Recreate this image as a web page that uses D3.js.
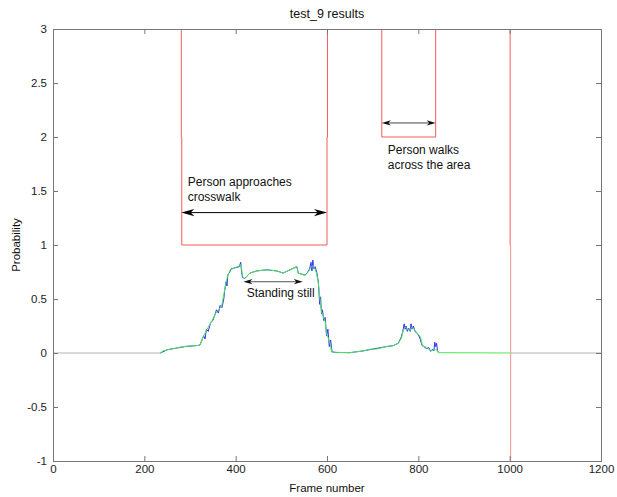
<!DOCTYPE html>
<html>
<head>
<meta charset="utf-8">
<script src="https://cdn.jsdelivr.net/npm/d3@7"></script>
<style>
  html, body { margin: 0; padding: 0; background: #fff; }
  svg { display: block; font-family: "Liberation Sans", Arial, sans-serif; }
</style>
</head>
<body>
<svg id="chart" width="617" height="497"></svg>
<script>
// Detector state over time (step series, red)
const stateFrames = [0, 281, 282, 600, 601, 720, 838, 1001, 1002];
const stateValues = [3, 2, 1, 2, 3, 2, 3, 1, -1];

// Smoothed probability (green)
const smoothFrames = [235, 241, 256, 270, 285, 300, 318, 322, 329, 336, 347, 358, 369, 377, 382, 388, 399, 409, 412, 415, 420, 431, 446, 468, 490, 504, 519, 534, 537, 552, 559, 566, 570, 577, 581, 585, 588, 596, 599, 607, 610, 621, 650, 680, 694, 709, 731, 745, 756, 763, 767, 771, 774, 782, 785, 793, 800, 805, 809, 818, 827, 834, 840, 844, 1005];
const smoothValues = [0, 0.02, 0.035, 0.045, 0.06, 0.065, 0.07, 0.075, 0.15, 0.21, 0.29, 0.38, 0.43, 0.61, 0.71, 0.77, 0.79, 0.81, 0.82, 0.71, 0.69, 0.74, 0.76, 0.77, 0.76, 0.74, 0.77, 0.80, 0.74, 0.72, 0.75, 0.80, 0.81, 0.74, 0.65, 0.49, 0.38, 0.29, 0.18, 0.09, 0.01, 0.006, 0.003, 0.02, 0.035, 0.037, 0.06, 0.068, 0.09, 0.136, 0.21, 0.24, 0.23, 0.21, 0.24, 0.21, 0.17, 0.15, 0.065, 0.053, 0.02, 0.028, 0.03, 0.003, 0];

// Raw probability (blue)
const rawFrames = [235, 250, 270, 290, 318, 322, 330, 333, 336, 340, 345, 350, 355, 358, 362, 366, 370, 374, 376, 379, 381, 383, 386, 390, 400, 408, 411, 413, 415, 420, 431, 446, 468, 490, 504, 519, 534, 537, 552, 558, 562, 565, 567, 569, 571, 574, 578, 581, 584, 586, 588, 590, 593, 596, 599, 602, 605, 608, 611, 620, 650, 680, 700, 731, 745, 756, 762, 766, 769, 771, 773, 776, 779, 782, 784, 786, 789, 793, 797, 800, 804, 808, 812, 818, 823, 827, 831, 834, 836, 838, 840, 842, 844];
const rawValues = [0, 0.03, 0.045, 0.06, 0.07, 0.075, 0.16, 0.13, 0.22, 0.2, 0.28, 0.3, 0.36, 0.4, 0.37, 0.44, 0.42, 0.5, 0.58, 0.66, 0.62, 0.73, 0.74, 0.78, 0.79, 0.8, 0.84, 0.75, 0.7, 0.69, 0.74, 0.76, 0.77, 0.76, 0.74, 0.77, 0.8, 0.74, 0.72, 0.75, 0.78, 0.84, 0.76, 0.86, 0.78, 0.8, 0.74, 0.66, 0.45, 0.52, 0.36, 0.4, 0.3, 0.33, 0.16, 0.22, 0.06, 0.12, 0.01, 0.005, 0.003, 0.02, 0.036, 0.06, 0.068, 0.09, 0.14, 0.2, 0.27, 0.22, 0.25, 0.2, 0.23, 0.2, 0.27, 0.22, 0.25, 0.2, 0.18, 0.17, 0.13, 0.07, 0.06, 0.04, 0.05, 0.015, 0.035, 0.02, 0.1, 0.06, 0.09, 0.02, 0.003];

// Baseline segments outside the tracked interval
const baseFrames = [[0, 235], [1005, 1200]];

const xTicks = [0, 200, 400, 600, 800, 1000, 1200];
const yTicks = [-1, -0.5, 0, 0.5, 1, 1.5, 2, 2.5, 3];

const titleText = "test_9 results";
const xLabel = "Frame number";
const yLabel = "Probability";

const svg = d3.select("#chart");
const plotL = 53, plotR = 601, plotT = 29, plotB = 461;

const x = d3.scaleLinear().domain([0, 1200]).range([plotL, plotR]);
const y = d3.scaleLinear().domain([-1, 3]).range([plotB, plotT]);

// data stays inside the axes box
svg.append("defs").append("clipPath").attr("id", "plot-clip")
  .append("rect").attr("x", plotL + 1).attr("y", plotT + 1)
  .attr("width", plotR - plotL - 1).attr("height", plotB - plotT - 1);
const data = svg.append("g").attr("clip-path", "url(#plot-clip)");

const line = d3.line().x(d => x(d[0])).y(d => y(d[1]));

// baseline at zero
baseFrames.forEach(seg => {
  data.append("path")
    .attr("d", line([[seg[0], 0], [seg[1], 0]]))
    .attr("fill", "none").attr("stroke", "#a8b8a8").attr("stroke-width", 1);
});

// raw probability
data.append("path")
  .attr("d", line(rawFrames.map((f, i) => [f, rawValues[i]])))
  .attr("fill", "none").attr("stroke", "#3030ff").attr("stroke-width", 1);

// smoothed probability
data.append("path")
  .attr("d", line(smoothFrames.map((f, i) => [f, smoothValues[i]])))
  .attr("fill", "none").attr("stroke", "#4ee84e").attr("stroke-width", 1);

// state step line
const stepLine = d3.line().x(d => x(d[0])).y(d => y(d[1])).curve(d3.curveStepAfter);
const statePts = stateFrames.map((f, i) => [f, stateValues[i]]);
data.append("path")
  .attr("d", stepLine(statePts.slice(0, -1)))
  .attr("fill", "none").attr("stroke", "#f45a5a").attr("stroke-width", 1);
data.append("path")
  .attr("d", line([[statePts[statePts.length - 1][0], stateValues[stateValues.length - 2]], statePts[statePts.length - 1]]))
  .attr("fill", "none").attr("stroke", "#f7a0a0").attr("stroke-width", 1.2);

// axes (drawn on top)
const axisColor = "#777";
function styleAxis(g) {
  g.select(".domain").remove();
  g.selectAll(".tick line").attr("stroke", axisColor);
  g.selectAll(".tick text").attr("fill", "#222").attr("font-size", "11.5px");
}
svg.append("g").attr("transform", `translate(0,${plotB})`)
  .call(d3.axisBottom(x).tickValues(xTicks).tickSize(-5).tickPadding(4).tickFormat(d => String(d)))
  .call(styleAxis);
svg.append("g").attr("transform", `translate(0,${plotT})`)
  .call(d3.axisTop(x).tickValues(xTicks).tickSize(-5).tickFormat(""))
  .call(styleAxis);
svg.append("g").attr("transform", `translate(${plotL},0)`)
  .call(d3.axisLeft(y).tickValues(yTicks).tickSize(-5).tickPadding(6).tickFormat(d => String(d)))
  .call(styleAxis);
svg.append("g").attr("transform", `translate(${plotR},0)`)
  .call(d3.axisRight(y).tickValues(yTicks).tickSize(-5).tickFormat(""))
  .call(styleAxis);
svg.append("rect")
  .attr("x", plotL + 0.5).attr("y", plotT + 0.5)
  .attr("width", plotR - plotL).attr("height", plotB - plotT)
  .attr("fill", "none").attr("stroke", axisColor).attr("stroke-width", 1);

// titles
svg.append("text").attr("x", (plotL + plotR) / 2).attr("y", 18)
  .attr("text-anchor", "middle").attr("font-size", "12.5px").attr("fill", "#111").text(titleText);
svg.append("text").attr("x", (plotL + plotR) / 2).attr("y", 492)
  .attr("text-anchor", "middle").attr("font-size", "11.5px").attr("fill", "#111").text(xLabel);
svg.append("text").attr("transform", `translate(20,${(plotT + plotB) / 2}) rotate(-90)`)
  .attr("text-anchor", "middle").attr("font-size", "11.5px").attr("fill", "#111").text(yLabel);

// double-headed annotation arrows
function arrow(f0, f1, v, len, hw, color, lineColor) {
  const x0 = x(f0), x1 = x(f1), yy = y(v);
  svg.append("line").attr("x1", x0 + len * 0.7).attr("x2", x1 - len * 0.7)
    .attr("y1", yy).attr("y2", yy).attr("stroke", lineColor).attr("stroke-width", 1);
  const head = (tx, dir) => `M${tx},${yy} L${tx + dir * len},${yy - hw} L${tx + dir * len * 0.72},${yy} L${tx + dir * len},${yy + hw} Z`;
  svg.append("path").attr("d", head(x0, 1)).attr("fill", color);
  svg.append("path").attr("d", head(x1, -1)).attr("fill", color);
}
function note(f, v, lines, dy) {
  const t = svg.append("text").attr("font-size", "12px").attr("fill", "#111");
  lines.forEach((s, i) => t.append("tspan").attr("x", x(f)).attr("y", y(v) + i * dy).text(s));
}

arrow(281, 600, 1.3, 13, 3.6, "#000", "#000");
note(295, 1.55, ["Person approaches", "crosswalk"], 15);

arrow(720, 838, 2.13, 9, 2.6, "#111", "#444");
note(733, 1.84, ["Person walks", "across the area"], 15);

arrow(417, 547, 0.66, 9, 2.6, "#111", "#555");
note(424, 0.52, ["Standing still"], 14);
</script>
</body>
</html>
